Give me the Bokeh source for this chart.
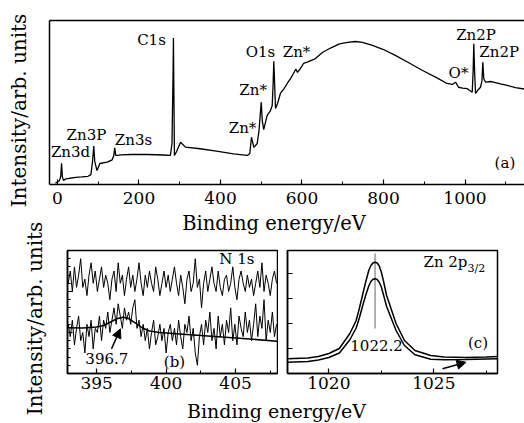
import math
from bokeh.plotting import figure
from bokeh.layouts import row, column
from bokeh.models import (Range1d, LinearAxis, SingleIntervalTicker, FixedTicker,
                          Arrow, NormalHead, CustomJSTickFormatter)
from bokeh.core.properties import value
from bokeh.embed import file_html
from bokeh.resources import INLINE

FONT = "DejaVu Serif"
YLABEL = "Intensity/arb. units"
XLABEL = "Binding energy/eV"
# text glyphs are drawn about this fraction of the font size below their anchor
BASELINE_FIX = 0.346

# ---------------- (a) survey spectrum ----------------
survey_energy = [-5, 0, 5, 8, 10, 12, 15, 20, 30, 45, 60, 75, 82, 86, 89, 91.5, 97, 104,
                 122, 134, 138, 140.5, 143, 147, 155, 180, 220, 260, 277, 281, 283.7, 284.5,
                 285.5, 287, 292, 302, 314, 350, 390, 432, 466, 472, 476, 482, 490, 494.5,
                 500, 502.5, 506, 514.6, 522.7, 526.9, 529, 530.8, 533, 535, 540, 547, 556,
                 563.7, 571.8, 579, 585, 589, 596, 603.7, 612.8, 633, 650, 670, 692, 712,
                 731, 748, 773, 800, 829, 861, 896, 930, 956, 969, 977, 984, 994, 1005,
                 1013.5, 1017.7, 1020, 1021.6, 1023.5, 1025.8, 1030.7, 1038, 1041.7, 1043.7,
                 1046, 1050.3, 1062.6, 1070, 1087, 1103.6, 1124, 1146]
survey_intensity = [0.8, 1.5, 2.5, 5, 13, 4.5, 2.5, 3.4, 3.8, 4.3, 4.6, 5.0, 6, 14, 23.4, 14,
                    8.5, 12.8, 13.6, 15.0, 17.5, 22.3, 17.7, 17.7, 18.1, 18.3, 18.3, 18.0, 17.7,
                    25, 70, 89.4, 60, 17.7, 20, 25.8, 22.8, 21.8, 20.3, 18.7, 17.7, 18.9, 28.8,
                    22.6, 25, 32.9, 50.2, 39, 33.5, 42.1, 45.1, 48.2, 60.4, 75.2, 60.4, 46.3,
                    49.4, 55.5, 58.5, 61.6, 64.6, 67.7, 70.4, 68.3, 70.7, 73.8, 74.6, 76.8,
                    80.5, 83.2, 85.7, 86.6, 87.2, 86.6, 84.8, 82.3, 78.7, 74.4, 69.5, 65.2,
                    61.6, 61.0, 62.4, 59.3, 58.8, 58.5, 57.0, 56.3, 69.5, 85.8, 69.5, 55.5,
                    57.3, 59.3, 63.4, 74.6, 64.6, 62.4, 62.8, 62.4, 61.3, 60.4, 59.1, 58.2]

survey_labels = ["Zn3d", "Zn3P", "Zn3s", "C1s", "Zn*", "Zn*", "O1s", "Zn*", "O*", "Zn2P", "Zn2P", "(a)"]
survey_label_x = [32, 71, 186.5, 230.7, 454, 480, 498, 586.5, 984, 1027, 1084, 1098]
survey_label_y = [16.5, 26.8, 23.8, 84.8, 31.1, 54.3, 77.6, 77.6, 64.6, 87.8, 77.6, 9.8]

# ---------------- (b) N 1s ----------------
n1s_start = 392.95
n1s_step = 0.15
n1s_upper = [22, 25, 20, 26, 21, 24, 28, 21, 23, 19,
             24, 27, 22, 25, 20, 23, 26, 21, 24, 22,
             18, 23, 25, 20, 27, 22, 24, 19, 23, 26,
             21, 24, 20, 23, 27, 22, 19, 24, 21, 25,
             22, 20, 26, 23, 19, 22, 25, 21, 24, 20,
             23, 26, 22, 19, 24, 21, 17, 23, 25, 20,
             22, 28, 21, 23, 16, 22, 25, 20, 23, 26,
             22, 20, 25, 21, 19, 23, 24, 20, 22, 26,
             21, 18, 23, 25, 22, 20, 24, 21, 23, 19,
             22, 25, 21, 27, 20, 24, 22, 19, 23, 25,
             22]
n1s_lower = [12, 9, 13, 7, 11, 14, 8, 10, 5, 12, 9, 13, 6, 11,
             10, 14, 8, 13, 11, 15, 10,
             13, 16, 12, 17, 14, 11, 16, 13, 15, 12,
             16, 18, 11, 13, 9, 12,
             8, 11, 6, 10, 13, 7, 9, 12, 8, 11, 5, 10, 12, 8,
             11, 7, 13, 9, 6, 12, 10, 14, 8, 11, 5, 2,
             9, 12, 7, 13, 10, 15, 8, 11, 6, 14, 9, 12, 7,
             13, 10, 16, 8, 12, 7, 14, 11, 9, 15, 10, 13, 8, 12, 17,
             9, 14, 11, 18, 8, 13, 10, 15, 9, 12]
n1s_energy = [n1s_start + n1s_step * i for i in range(len(n1s_upper))]
fit_energy = [392.9, 394.0, 395.0, 395.5, 396.0, 396.5, 396.9, 397.3, 397.8, 398.3, 398.8,
              399.5, 400.5, 402.0, 404.0, 406.0, 408.0]
fit_intensity = [11.15, 11.1, 11.34, 11.7, 12.56, 13.41, 13.73, 13.41, 12.3, 11.1, 10.37,
                 10.0, 9.76, 9.39, 8.9, 8.41, 7.88]
n1s_labels = ["N 1s", "396.7", "(b)"]
n1s_label_x = [405.09, 395.73, 400.6]
n1s_label_y = [26.75, 2.37, 1.54]

# ---------------- (c) Zn 2p3/2 ----------------
zn_energy = [1018.03, 1019.0, 1019.5, 1020.0, 1020.5, 1021.0, 1021.3, 1021.45, 1021.6, 1021.75,
             1021.9, 1022.0, 1022.1, 1022.2, 1022.3, 1022.4, 1022.5, 1022.6, 1022.75, 1023.2,
             1023.6, 1024.1, 1024.85, 1025.5, 1026.5, 1027.5, 1028.03]
zn_upper = [0.59, 0.62, 0.68, 0.80, 1.00, 1.60, 2.12, 2.6, 3.12, 3.65,
            4.12, 4.32, 4.42, 4.45, 4.42, 4.3, 4.05, 3.7, 3.12, 2.0,
            1.32, 0.92, 0.72, 0.66, 0.64, 0.66, 0.68]
zn_lower = [0.45, 0.48, 0.54, 0.64, 0.82, 1.35, 1.82, 2.22, 2.68, 3.12,
            3.5, 3.68, 3.77, 3.79, 3.76, 3.65, 3.45, 3.15, 2.68, 1.72,
            1.12, 0.75, 0.57, 0.55, 0.56, 0.58, 0.59]
zn_peak = 1022.2


def no_grid(p):
    p.xgrid.visible = False
    p.ygrid.visible = False


def lift(ys, font_px, units_per_px):
    """Move text anchors up so the drawn baseline lands at the intended place."""
    return [y + BASELINE_FIX * font_px * units_per_px for y in ys]


def style_axis(ax, labels=True, size="17px", standoff=5):
    ax.axis_line_color = "black"
    ax.axis_line_width = 1.5
    ax.major_tick_in = 5
    ax.major_tick_out = 0
    ax.minor_tick_in = 3
    ax.minor_tick_out = 0
    ax.major_tick_line_color = "black"
    ax.minor_tick_line_color = "black"
    ax.major_tick_line_width = 1.2
    ax.minor_tick_line_width = 1.0
    ax.major_label_text_font = FONT
    ax.major_label_text_color = "black"
    ax.major_label_text_font_size = size
    if labels:
        ax.major_label_standoff = standoff
    else:
        ax.formatter = CustomJSTickFormatter(code="return '';")
        ax.major_label_standoff = 0


def text_fig(w, h):
    f = figure(width=w, height=h, x_range=Range1d(0, w), y_range=Range1d(0, h),
               x_axis_type=None, y_axis_type=None, output_backend="svg",
               toolbar_location=None, min_border=0)
    f.outline_line_color = None
    no_grid(f)
    return f


# left column holding the two rotated y labels (text "down" points to the right)
lab = text_fig(48, 423)
lab.text(x=[25 - BASELINE_FIX * 20, 41.5 - BASELINE_FIX * 20], y=[313, 105],
         text=[YLABEL, YLABEL], angle=math.pi / 2,
         text_align="center", text_baseline="alphabetic", text_font=value(FONT),
         text_font_size="20px", text_color="black")

# ---- panel (a)
p1 = figure(width=476, height=211, x_range=Range1d(-19.6, 1146), y_range=Range1d(0, 100),
            output_backend="svg", toolbar_location=None,
            min_border_left=1, min_border_right=0, min_border_top=20, min_border_bottom=27)
p1.outline_line_color = None
no_grid(p1)
p1.line(survey_energy, survey_intensity, color="black", line_width=1.3)
p1.text(x=survey_label_x, y=lift(survey_label_y, 15, 100 / 164), text=survey_labels,
        text_align="center", text_baseline="alphabetic", text_font=value(FONT),
        text_font_size="15px", text_color="black")
p1.xaxis.ticker = SingleIntervalTicker(interval=200, num_minor_ticks=2)
style_axis(p1.xaxis[0], True, "17px", 7)
p1.yaxis.ticker = FixedTicker(ticks=[])
style_axis(p1.yaxis[0], False)
top_axis = LinearAxis(ticker=FixedTicker(ticks=[]))
style_axis(top_axis, False)
p1.add_layout(top_axis, "above")

xlab1 = text_fig(476, 35)
xlab1.text(x=[225], y=lift([16], 19.5, 1), text=[XLABEL], text_align="center",
           text_baseline="alphabetic", text_font=value(FONT), text_font_size="19.5px",
           text_color="black")

# ---- panel (b)
p2 = figure(width=230, height=150, x_range=Range1d(392.9, 408.02), y_range=Range1d(0, 30),
            output_backend="svg", toolbar_location=None,
            min_border_left=19, min_border_right=1, min_border_top=4, min_border_bottom=23)
p2.outline_line_color = "black"
p2.outline_line_width = 1.5
no_grid(p2)
p2.line(n1s_energy, n1s_upper, color="black", line_width=1.0)
p2.line(n1s_energy, n1s_lower, color="black", line_width=1.0)
p2.line(fit_energy, fit_intensity, color="black", line_width=1.5)
p2.text(x=n1s_label_x, y=lift(n1s_label_y, 15, 30 / 123), text=n1s_labels,
        text_align="center", text_baseline="alphabetic", text_font=value(FONT),
        text_font_size="15px", text_color="black")
p2.add_layout(Arrow(end=NormalHead(size=9, fill_color="black", line_color="black"),
                    x_start=396.07, y_start=6.0, x_end=396.71, y_end=10.9,
                    line_color="black", line_width=1.5))
p2.xaxis.ticker = SingleIntervalTicker(interval=5, num_minor_ticks=2)
style_axis(p2.xaxis[0], True, "17px", 3)
p2.yaxis.ticker = SingleIntervalTicker(interval=10, num_minor_ticks=5)
style_axis(p2.yaxis[0], False)

# ---- panel (c)
c_upp = 4.92 / 123
p3 = figure(width=246, height=150, x_range=Range1d(1018.03, 1028.03), y_range=Range1d(0, 4.92),
            output_backend="svg", toolbar_location=None,
            min_border_left=9, min_border_right=27, min_border_top=4, min_border_bottom=23)
p3.outline_line_color = "black"
p3.outline_line_width = 1.5
no_grid(p3)
p3.segment(x0=[zn_peak], y0=[1.8], x1=[zn_peak], y1=[4.8], color="#999999", line_width=1.5)
p3.line(zn_energy, zn_upper, color="black", line_width=1.5)
p3.line(zn_energy, zn_lower, color="black", line_width=1.5)
p3.text(x=[1022.27, 1027.1], y=lift([0.92, 1.0], 15, c_upp), text=["1022.2", "(c)"],
        text_align="center", text_baseline="alphabetic", text_font=value(FONT),
        text_font_size="15px", text_color="black")
p3.text(x=[1026.6], y=lift([4.25], 15, c_upp), text=["Zn 2p"], text_align="right",
        text_baseline="alphabetic", text_font=value(FONT), text_font_size="15px",
        text_color="black")
p3.text(x=[1026.6], y=lift([4.05], 11, c_upp), text=["3/2"], text_align="left",
        text_baseline="alphabetic", text_font=value(FONT), text_font_size="11px",
        text_color="black")
p3.add_layout(Arrow(end=NormalHead(size=9, fill_color="black", line_color="black"),
                    x_start=1025.41, y_start=0.19, x_end=1026.53, y_end=0.45,
                    line_color="black", line_width=1.5))
p3.xaxis.ticker = SingleIntervalTicker(interval=5, num_minor_ticks=2)
style_axis(p3.xaxis[0], True, "17px", 3)
p3.yaxis.ticker = SingleIntervalTicker(interval=1, num_minor_ticks=0)
style_axis(p3.yaxis[0], False)

xlab2 = text_fig(476, 27)
xlab2.text(x=[227.5], y=lift([6], 19, 1), text=[XLABEL], text_align="center",
           text_baseline="alphabetic", text_font=value(FONT), text_font_size="19px",
           text_color="black")

layout = row(lab, column(p1, xlab1, row(p2, p3), xlab2))

with open("out.html", "w") as f:
    f.write(file_html(layout, INLINE))
